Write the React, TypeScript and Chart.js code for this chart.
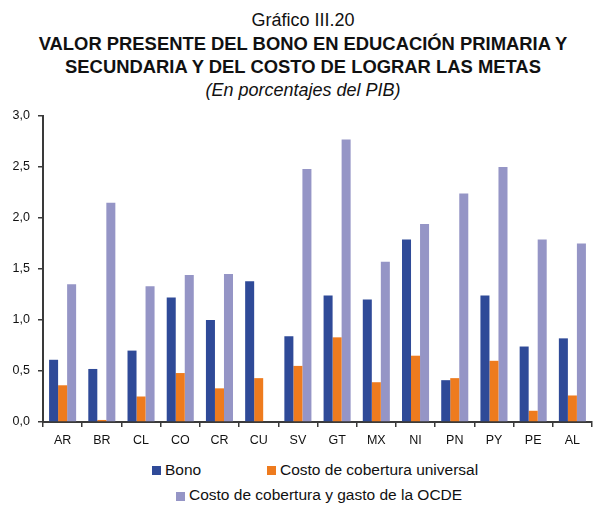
import React, { useEffect, useRef } from "react";
import { Chart, registerables } from "chart.js";

Chart.register(...registerables);

const categories = ["AR", "BR", "CL", "CO", "CR", "CU", "SV", "GT", "MX", "NI", "PN", "PY", "PE", "AL"];
const bono = [0.61, 0.52, 0.7, 1.22, 1.0, 1.38, 0.84, 1.24, 1.2, 1.79, 0.41, 1.24, 0.74, 0.82];
const coberturaUniversal = [0.36, 0.02, 0.25, 0.48, 0.33, 0.43, 0.55, 0.83, 0.39, 0.65, 0.43, 0.6, 0.11, 0.26];
const coberturaOcde = [1.35, 2.15, 1.33, 1.44, 1.45, null, 2.48, 2.77, 1.57, 1.94, 2.24, 2.5, 1.79, 1.75];
const seriesNames = ["Bono", "Costo de cobertura universal", "Costo de cobertura y gasto de la OCDE"];
const seriesColors = ["#2F4A98", "#EE7B1E", "#9595C6"];
const yMin = 0;
const yMax = 3;
const yStep = 0.5;

const titleLines = [
  "Gráfico III.20",
  "VALOR PRESENTE DEL BONO EN EDUCACIÓN PRIMARIA Y",
  "SECUNDARIA Y DEL COSTO DE LOGRAR LAS METAS",
  "(En porcentajes del PIB)",
];

const FONT = "'Liberation Sans', Arial, Helvetica, sans-serif";
const AXIS = "#3a3a3a";

export default function App() {
  const canvasRef = useRef<HTMLCanvasElement | null>(null);

  useEffect(() => {
    const canvas = canvasRef.current;
    if (!canvas) return;
    const chart = new Chart(canvas, {
      type: "bar",
      data: {
        labels: categories,
        datasets: [
          { label: seriesNames[0], data: bono, backgroundColor: seriesColors[0] },
          { label: seriesNames[1], data: coberturaUniversal, backgroundColor: seriesColors[1] },
          { label: seriesNames[2], data: coberturaOcde as any, backgroundColor: seriesColors[2] },
        ],
      },
      options: {
        responsive: false,
        animation: false,
        layout: { padding: { top: 16, right: 2, left: 0, bottom: 0 } },
        datasets: { bar: { categoryPercentage: 0.69, barPercentage: 1.0, borderWidth: 0 } } as any,
        plugins: {
          legend: { display: false },
          title: { display: false },
          tooltip: { enabled: false },
        },
        scales: {
          x: {
            grid: {
              display: true,
              drawOnChartArea: false,
              drawTicks: true,
              tickLength: 5,
              color: AXIS,
              lineWidth: 1.5,
              offset: true,
            },
            border: { display: true, color: AXIS, width: 2 },
            ticks: { font: { family: FONT, size: 12.5 }, color: "#111", padding: 6 },
            afterFit: (s: any) => {
              s.height = 28;
            },
          },
          y: {
            min: yMin,
            max: yMax,
            grid: {
              display: true,
              drawOnChartArea: false,
              drawTicks: true,
              tickLength: 5,
              color: AXIS,
              lineWidth: 1.5,
            },
            border: { display: true, color: AXIS, width: 2 },
            ticks: {
              stepSize: yStep,
              font: { family: FONT, size: 12.5 },
              color: "#111",
              padding: 8,
              callback: (v: any) => Number(v).toFixed(1).replace(".", ","),
            },
            afterFit: (s: any) => {
              s.width = 43;
            },
          },
        },
      },
    });
    return () => chart.destroy();
  }, []);

  const titleStyle = (i: number): React.CSSProperties => ({
    position: "absolute",
    left: 0,
    top: 8.8 + i * 23.3,
    width: 594,
    boxSizing: "border-box",
    paddingLeft: 12,
    textAlign: "center",
    fontFamily: FONT,
    fontSize: i === 1 || i === 2 ? 18.4 : 18,
    lineHeight: "23.3px",
    fontWeight: i === 1 || i === 2 ? 700 : 400,
    fontStyle: i === 3 ? "italic" : "normal",
    color: "#111",
    whiteSpace: "nowrap",
  });

  const legendPos = [
    { left: 152, top: 460.5 },
    { left: 267, top: 460.5 },
    { left: 176, top: 486 },
  ];

  return (
    <div style={{ position: "absolute", left: 0, top: 0, width: 594, height: 505, background: "#fff", overflow: "hidden" }}>
      {titleLines.map((t, i) => (
        <div key={i} style={titleStyle(i)}>
          {t}
        </div>
      ))}
      <canvas
        ref={canvasRef}
        width={594}
        height={350}
        style={{ position: "absolute", left: 0, top: 100, width: 594, height: 350, display: "block" }}
      />
      {seriesNames.map((name, i) => (
        <div
          key={name}
          style={{
            position: "absolute",
            left: legendPos[i].left,
            top: legendPos[i].top,
            display: "flex",
            alignItems: "center",
            fontFamily: FONT,
            fontSize: 15.5,
            lineHeight: "18px",
            color: "#111",
            whiteSpace: "nowrap",
          }}
        >
          <span style={{ display: "inline-block", width: 9, height: 9, background: seriesColors[i], marginRight: 4, marginTop: 2 }} />
          <span>{name}</span>
        </div>
      ))}
    </div>
  );
}
